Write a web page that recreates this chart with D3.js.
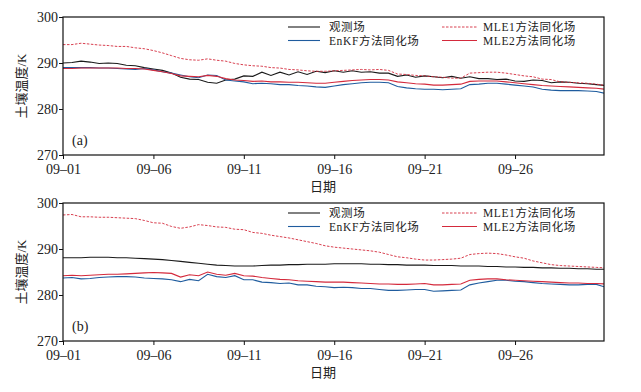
<!DOCTYPE html>
<html>
<head>
<meta charset="utf-8">
<script src="https://cdn.jsdelivr.net/npm/d3@7"></script>
<style>
  body { margin: 0; background: #fff; }
  svg text { font-family: "Liberation Serif", "Noto Sans CJK SC", serif; fill: #222; }
</style>
</head>
<body>
<div id="chart-area"></div>
<script>
// time index, half-day steps from 09-01 00:00
let days = d3.range(0, 30.5, 0.5);

let tickDays = [0, 5, 10, 15, 20, 25];
let tickLabels = ["09–01", "09–06", "09–11", "09–16", "09–21", "09–26"];
let yTicks = [270, 280, 290, 300];

let seriesNames = ["观测场", "EnKF方法同化场", "MLE1方法同化场", "MLE2方法同化场"];

// panel (a)
let obsA = [290.0,290.1,290.4,290.2,289.9,290.0,289.9,289.5,289.4,289.0,288.7,288.4,287.8,286.9,286.5,286.4,285.8,285.6,286.3,286.5,
  287.2,287.1,288.0,287.3,288.0,287.4,288.1,287.5,288.2,287.9,288.3,288.0,288.3,288.0,288.1,287.8,287.8,287.1,287.4,286.9,
  287.2,287.0,286.8,287.1,286.7,287.0,286.6,286.6,286.4,286.5,286.1,286.0,286.3,286.2,285.7,285.9,285.8,285.6,285.5,285.3,285.1];
let enkfA = [289.0,289.0,289.0,289.0,288.9,288.9,288.8,288.7,288.6,288.8,288.5,288.1,287.8,287.4,287.0,286.8,287.4,287.3,286.3,286.1,
  285.9,285.5,285.6,285.5,285.3,285.3,285.1,285.0,284.8,284.7,285.0,285.3,285.5,285.7,285.8,285.8,285.7,284.9,284.6,284.4,
  284.3,284.3,284.2,284.3,284.4,285.3,285.4,285.6,285.6,285.4,285.2,285.0,284.8,284.3,284.1,284.0,284.0,284.0,283.9,283.8,283.4];
let mle1A = [294.0,294.0,294.3,294.1,293.9,293.8,293.6,293.6,293.3,293.1,292.7,292.2,291.6,291.0,290.7,290.6,290.9,290.6,290.4,289.9,
  289.6,289.4,289.3,289.0,288.9,288.6,288.5,288.3,288.2,288.2,288.3,288.4,288.5,288.6,288.5,288.6,288.4,287.6,287.5,287.3,
  287.2,287.0,286.9,286.7,286.7,287.8,287.9,288.0,288.0,287.8,287.5,287.2,287.0,286.5,286.4,285.9,285.8,285.7,285.6,285.4,285.1];
let mle2A = [288.8,288.8,288.9,288.9,288.9,288.9,288.9,288.8,288.8,288.7,288.4,288.1,287.7,287.2,287.1,287.0,287.3,287.1,286.6,286.3,
  286.2,286.0,286.1,285.9,285.9,285.8,285.8,285.7,285.6,285.6,285.8,286.0,286.2,286.3,286.4,286.4,286.3,285.9,285.7,285.5,
  285.4,285.2,285.2,285.3,285.4,286.0,286.1,286.1,286.1,285.9,285.7,285.5,285.3,285.1,285.0,284.9,284.8,284.7,284.6,284.5,284.3];

// panel (b)
let obsB = [288.1,288.1,288.1,288.2,288.2,288.2,288.1,288.1,288.0,287.9,287.8,287.7,287.5,287.3,287.1,286.9,286.7,286.5,286.4,286.3,
  286.3,286.3,286.4,286.5,286.5,286.6,286.6,286.7,286.7,286.7,286.8,286.8,286.8,286.8,286.7,286.7,286.6,286.6,286.5,286.5,
  286.5,286.4,286.4,286.4,286.3,286.3,286.3,286.2,286.2,286.1,286.1,286.0,286.0,285.9,285.9,285.8,285.8,285.7,285.7,285.6,285.6];
let enkfB = [283.7,283.8,283.5,283.6,283.8,283.9,284.0,284.0,283.9,283.7,283.6,283.5,283.3,282.9,283.4,283.1,284.5,284.0,283.8,284.2,
  283.3,283.3,282.8,282.7,282.5,282.6,282.2,282.2,281.9,281.8,281.6,281.7,281.6,281.4,281.4,281.2,281.0,281.0,281.1,281.2,
  281.2,280.8,280.9,281.0,281.1,282.2,282.6,282.9,283.2,283.2,283.0,282.9,282.7,282.5,282.4,282.3,282.2,282.2,282.3,282.3,281.7];
let mle1B = [297.4,297.5,297.0,297.0,296.9,296.9,296.8,296.7,296.6,296.2,295.7,295.6,294.9,294.5,294.8,295.3,295.1,294.8,294.7,294.3,
  294.2,293.6,293.4,293.0,292.7,292.4,292.0,291.6,291.2,290.7,290.4,290.2,290.0,289.8,289.6,289.3,288.8,288.3,288.1,287.8,
  287.6,287.6,287.7,287.8,288.0,288.8,289.0,289.1,289.0,288.7,288.3,288.0,287.4,287.0,286.6,286.4,286.3,286.2,286.1,286.0,285.9];
let mle2B = [284.2,284.3,284.2,284.3,284.4,284.5,284.5,284.6,284.7,284.8,284.9,284.8,284.7,283.9,284.4,284.2,285.0,284.5,284.3,284.7,
  284.2,284.1,283.8,283.6,283.4,283.3,283.1,283.0,282.9,282.8,282.8,282.8,282.7,282.6,282.5,282.4,282.4,282.3,282.3,282.4,
  282.5,282.2,282.2,282.3,282.4,283.2,283.4,283.5,283.5,283.3,283.2,283.1,283.0,282.9,282.8,282.7,282.6,282.6,282.5,282.5,282.4];

let colors = ["#1a1a1a", "#1f5c9e", "#d42a3c", "#d42a3c"];
let dashes = [null, null, "2.5,1.5", null];

let fullW = 641, fullH = 392;
let margin = {left: 63, right: 37};
let width = fullW - margin.left - margin.right;
let plotH = 138;

let svg = d3.select("#chart-area").append("svg")
  .attr("width", fullW)
  .attr("height", fullH);

let x = d3.scaleLinear()
  .domain([0, 29.92])
  .range([0, width]);

function drawPanel(top, label, seriesList, id) {
  let g = svg.append("g")
    .attr("transform", "translate(" + margin.left + "," + top + ")");

  let y = d3.scaleLinear()
    .domain([270, 300])
    .range([plotH, 0]);

  g.append("clipPath").attr("id", "clip-" + id)
    .append("rect").attr("width", width).attr("height", plotH);

  // lines
  let line = d3.line()
    .x((d, i) => x(days[i]))
    .y(d => y(d));

  seriesList.forEach((s, k) => {
    g.append("path")
      .attr("clip-path", "url(#clip-" + id + ")")
      .attr("d", line(s))
      .attr("fill", "none")
      .attr("stroke", colors[k])
      .attr("stroke-width", k == 2 ? 0.9 : 1.1)
      .attr("stroke-dasharray", dashes[k]);
  });

  // frame
  g.append("rect")
    .attr("width", width).attr("height", plotH)
    .attr("fill", "none").attr("stroke", "#111").attr("stroke-width", 1.2);

  // axes
  let xAxis = d3.axisBottom(x)
    .tickValues(tickDays)
    .tickFormat((d, i) => tickLabels[i])
    .tickSize(4).tickSizeOuter(0);
  let gx = g.append("g").attr("transform", "translate(0," + plotH + ")").call(xAxis);
  gx.select(".domain").remove();
  gx.selectAll("line").attr("stroke", "#111");
  gx.selectAll("text").attr("font-size", 14).attr("dy", "0.85em")
    .style("font-family", "Liberation Serif").attr("fill", "#222");

  let yAxis = d3.axisLeft(y).tickValues(yTicks).tickSize(4).tickSizeOuter(0);
  let gy = g.append("g").call(yAxis);
  gy.select(".domain").remove();
  gy.selectAll("line").attr("stroke", "#111");
  gy.selectAll("text").attr("font-size", 14).attr("x", -5)
    .style("font-family", "Liberation Serif").attr("fill", "#222");

  // axis titles
  g.append("text")
    .attr("x", 260).attr("y", plotH + 36)
    .attr("text-anchor", "middle").attr("font-size", 13)
    .text("日期");
  g.append("text")
    .attr("transform", "translate(-37," + plotH / 2 + ") rotate(-90)")
    .attr("text-anchor", "middle").attr("font-size", 13)
    .text("土壤温度/K");

  // panel tag
  g.append("text")
    .attr("x", 9).attr("y", plotH - 10)
    .attr("font-size", 14)
    .text(label);

  // legend
  let legPos = [[225, 10], [225, 23.5], [379, 10], [379, 23.5]];
  seriesNames.forEach((name, k) => {
    let lg = g.append("g").attr("transform", "translate(" + legPos[k][0] + "," + legPos[k][1] + ")");
    lg.append("line")
      .attr("x1", 0).attr("x2", k >= 2 ? 35 : 32)
      .attr("stroke", colors[k])
      .attr("stroke-width", k == 2 ? 0.9 : 1.1)
      .attr("stroke-dasharray", dashes[k]);
    lg.append("text")
      .attr("x", 41).attr("y", 4)
      .attr("font-size", 11.5)
      .attr("letter-spacing", 0.6)
      .text(name);
  });
}

drawPanel(17, "(a)", [obsA, enkfA, mle1A, mle2A], "a");
drawPanel(203, "(b)", [obsB, enkfB, mle1B, mle2B], "b");
</script>
</body>
</html>
